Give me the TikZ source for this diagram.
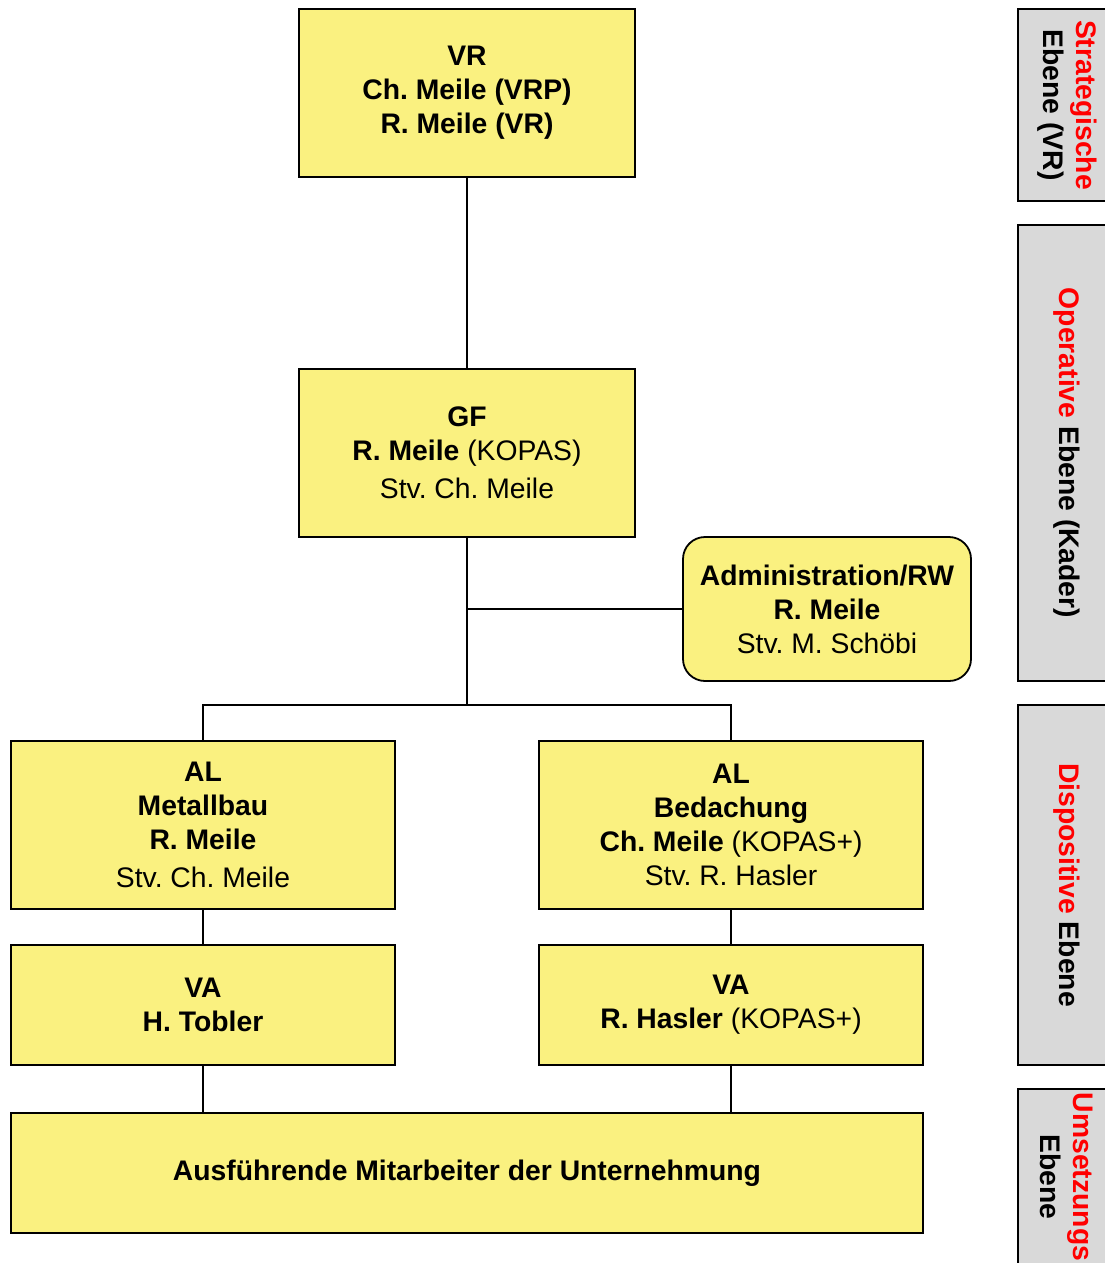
\documentclass[tikz,border=0pt]{standalone}
\usepackage{fontspec}
\setmainfont{Liberation Sans}
\frenchspacing
\definecolor{boxyellow}{RGB}{250,241,128}
\definecolor{bargray}{RGB}{217,217,217}

\begin{document}
\begin{tikzpicture}[x=1pt,y=-1pt,
    orgbox/.style={draw,line width=1.8pt,fill=boxyellow,align=center,inner sep=0pt,
      font=\fontsize{28.3}{34}\selectfont},
    levelbar/.style={draw,line width=1.8pt,fill=bargray,align=center,inner sep=0pt,
      rotate=-90,minimum height=98pt,font=\fontsize{28.3}{33}\selectfont\bfseries},
    link/.style={line width=1.8pt}]
\useasboundingbox (0,0) rectangle (1104,1263);
  \node[orgbox,minimum width=336pt,minimum height=168pt] (vr) at (467,93) {\textbf{VR}\\\textbf{Ch. Meile (VRP)}\\\textbf{R. Meile (VR)}};
  \node[orgbox,minimum width=336pt,minimum height=168pt] (gf) at (467,453) {\textbf{GF}\\\textbf{R. Meile} (KOPAS)\\[4pt]Stv. Ch. Meile};
  \node[orgbox,rounded corners=22pt,minimum width=288pt,minimum height=144pt] (adm) at (827,609) {\textbf{Administration/RW}\\\textbf{R. Meile}\\Stv. M. Schöbi};
  \node[orgbox,minimum width=384pt,minimum height=168pt] (al1) at (203,825) {\textbf{AL}\\\textbf{Metallbau}\\\textbf{R. Meile}\\[4pt]Stv. Ch. Meile};
  \node[orgbox,minimum width=384pt,minimum height=168pt] (al2) at (731,825) {\textbf{AL}\\\textbf{Bedachung}\\\textbf{Ch. Meile} (KOPAS+)\\Stv. R. Hasler};
  \node[orgbox,minimum width=384pt,minimum height=120pt] (va1) at (203,1005) {\textbf{VA}\\\textbf{H. Tobler}};
  \node[orgbox,minimum width=384pt,minimum height=120pt] (va2) at (731,1005) {\textbf{VA}\\\textbf{R. Hasler} (KOPAS+)};
  \node[orgbox,minimum width=912pt,minimum height=120pt] (ma) at (467,1173) {\textbf{Ausführende Mitarbeiter der Unternehmung}};
  \coordinate (fork) at (467,705);
  \draw[link] (vr) -- (gf);
  \draw[link] (gf) -- (fork);
  \draw[link] (adm.west) -- (adm.west -| gf.south);
  \draw[link] (al1.north) |- (fork) -| (al2.north);
  \draw[link] (al1) -- (va1);
  \draw[link] (al2) -- (va2);
  \draw[link] (va1) -- (va1 |- ma.north);
  \draw[link] (va2) -- (va2 |- ma.north);
  \node[levelbar,minimum width=192pt] (l1) at (1067,105) {\textcolor{red}{Strategische}\\Ebene (VR)};
  \node[levelbar,minimum width=456pt] (l2) at (1067,453) {\textcolor{red}{Operative} Ebene (Kader)};
  \node[levelbar,minimum width=360pt] (l3) at (1067,885) {\textcolor{red}{Dispositive} Ebene};
  \node[levelbar,minimum width=176pt] (l4) at (1067,1177) {\textcolor{red}{Umsetzungs}\\Ebene};
\end{tikzpicture}
\end{document}
